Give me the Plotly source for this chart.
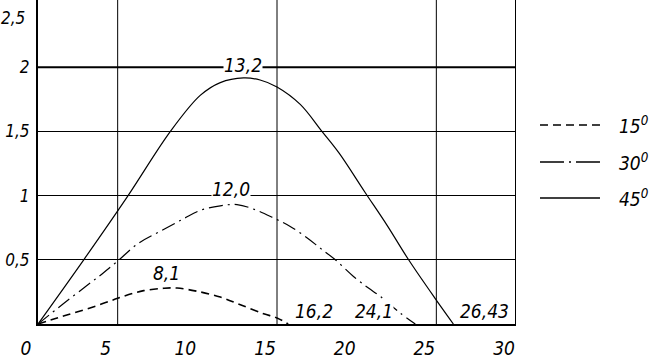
import plotly.graph_objects as go

# ---- data ----
x15 = [0, 1.2, 2.24, 3.71, 5.0, 6.0, 6.63, 7.89, 8.73, 9.98, 11.44, 12.7, 14.16, 15.0, 15.7]
y15 = [0, 0.047, 0.086, 0.143, 0.20, 0.24, 0.26, 0.278, 0.28, 0.255, 0.21, 0.15, 0.08, 0.047, 0.0]

x30 = [0, 1.51, 2.97, 4.02, 5.0, 6.32, 7.79, 9.14, 10.19, 11.44, 12.49, 13.74, 14.8, 15.83, 16.9, 17.72, 18.66, 19.8, 20.74, 21.48, 22.73, 23.68]
y30 = [0, 0.15, 0.29, 0.39, 0.49, 0.63, 0.73, 0.82, 0.885, 0.92, 0.93, 0.885, 0.825, 0.76, 0.67, 0.59, 0.50, 0.37, 0.28, 0.215, 0.086, 0.0]

x45 = [0, 2.87, 5.6, 8.31, 10.18, 11.44, 12.9, 13.94, 15.0, 16.46, 17.82, 18.9, 20.5, 21.9, 23.26, 24.92, 26.07]
y45 = [0, 0.50, 0.99, 1.50, 1.78, 1.88, 1.916, 1.90, 1.846, 1.71, 1.50, 1.33, 1.03, 0.77, 0.50, 0.20, 0.0]

series_names = ["15<sup>0</sup>", "30<sup>0</sup>", "45<sup>0</sup>"]

x_ticks = [0, 5, 10, 15, 20, 25, 30]
x_ticktext = ["0", "5", "10", "15", "20", "25", "30"]
y_ticks = [0.5, 1, 1.5, 2]
y_ticktext = ["0,5", "1", "1,5", "2"]
y_top_label = "2,5"

x_grid = [5, 15, 25]

label_text = ["13,2", "12,0", "8,1", "16,2", "24,1", "26,43"]
label_x = [12.87, 12.12, 8.04, 17.33, 21.1, 28.0]
label_y = [2.02, 1.05, 0.40, 0.10, 0.10, 0.10]

FONT = dict(family="DejaVu Sans Condensed, DejaVu Sans, sans-serif",
            size=19, color="black", style="italic")
YFONT = dict(FONT, size=17)

styles = [
    dict(color="black", width=1.6, dash="8px,5px"),
    dict(color="black", width=1.2, dash="14px,5px,2px,5px"),
    dict(color="black", width=1.2),
]
legend_styles = [
    dict(color="black", width=1.6, dash="8px,5px"),
    dict(color="black", width=1.6, dash="24px,5px,2px,5px"),
    dict(color="black", width=1.6),
]

fig = go.Figure()
for xs, ys, nm, st in zip([x15, x30, x45], [y15, y30, y45], series_names, styles):
    fig.add_trace(go.Scatter(x=xs, y=ys, mode="lines", name=nm,
                             line=dict(shape="spline", smoothing=1.0, **st),
                             showlegend=False))

shapes = []
for gx in x_grid:
    shapes.append(dict(type="line", xref="x", yref="paper", x0=gx, x1=gx, y0=0, y1=1,
                       line=dict(color="black", width=1), layer="below"))
# right border and the bold y=2 line
shapes.append(dict(type="line", xref="x", yref="paper", x0=30, x1=30, y0=0, y1=1,
                   line=dict(color="black", width=2), layer="below"))
shapes.append(dict(type="line", xref="paper", yref="y", x0=0, x1=1, y0=2, y1=2,
                   line=dict(color="black", width=2), layer="below"))

annotations = []
for t, ax_, ay_ in zip(label_text, label_x, label_y):
    annotations.append(dict(x=ax_, y=ay_, xref="x", yref="y", text=t, showarrow=False,
                            font=FONT, bgcolor="white", borderpad=0))
annotations.append(dict(x=0, y=2.5, xref="paper", yref="y", text=y_top_label, showarrow=False,
                        xanchor="right", xshift=-11, yshift=-15, font=YFONT))

# manual legend (long sample lines as in the reference)
leg_x0, leg_x1, leg_tx = 1.0502, 1.1757, 1.2113
leg_y = [0.614, 0.5, 0.389]
for nm, st, ly in zip(series_names, legend_styles, leg_y):
    shapes.append(dict(type="line", xref="paper", yref="paper", x0=leg_x0, x1=leg_x1,
                       y0=ly, y1=ly, line=st))
    annotations.append(dict(x=leg_tx, y=ly, xref="paper", yref="paper", text=nm,
                            showarrow=False, xanchor="left", yanchor="middle", font=FONT))

fig.update_layout(
    width=650, height=364,
    margin=dict(l=38, r=134, t=0, b=40, autoexpand=False),
    paper_bgcolor="white", plot_bgcolor="white",
    font=FONT,
    shapes=shapes, annotations=annotations,
    showlegend=False,
    xaxis=dict(range=[0, 30], tickvals=x_ticks, ticktext=x_ticktext, automargin=False,
               showgrid=False, zeroline=False, showline=True, linecolor="black", linewidth=2,
               ticks="", ticklabelstandoff=6, ticklabelshift=-12, tickfont=FONT),
    yaxis=dict(range=[0, 2.523], tickvals=y_ticks, ticktext=y_ticktext, automargin=False,
               showgrid=True, gridcolor="black", gridwidth=1,
               zeroline=False, showline=True, linecolor="black", linewidth=2,
               ticks="", ticklabelstandoff=3, tickfont=YFONT),
)

fig.write_html("out.html", config={"displayModeBar": False},
               post_script="document.body.style.margin='0';")
